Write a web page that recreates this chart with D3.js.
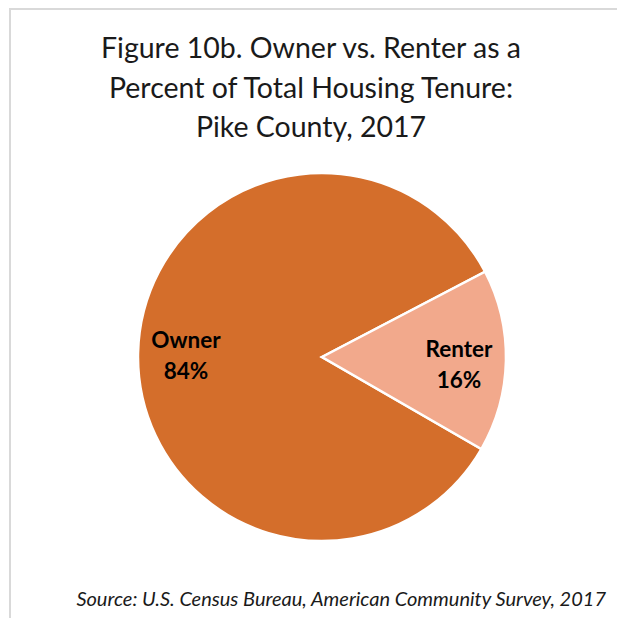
<!DOCTYPE html>
<html>
<head>
<meta charset="utf-8">
<script src="https://cdn.jsdelivr.net/npm/d3@7"></script>
<style>
  body { margin: 0; background: #fff; }
  svg text { font-family: Lato, "Open Sans", sans-serif; }
</style>
</head>
<body>
<div id="chart"></div>
<script>
// data
var categories = ["Owner", "Renter"];
var percents = [84, 16];
var colors = ["#D46E2B", "#F2A98C"];
var titleLines = ["Figure 10b. Owner vs. Renter as a", "Percent of Total Housing Tenure:", "Pike County, 2017"];
var sourceText = "Source: U.S. Census Bureau, American Community Survey, 2017";

var svgWidth = 617;
var svgHeight = 618;

var svg = d3.select("#chart")
  .append("svg")
  .attr("width", svgWidth)
  .attr("height", svgHeight);

// frame (top and left edges visible)
svg.append("path")
  .attr("d", "M10,618 L10,9 L617,9")
  .attr("fill", "none")
  .attr("stroke", "#d9d9d9")
  .attr("stroke-width", 2);

// title
svg.append("g").selectAll("text")
  .data(titleLines)
  .enter()
  .append("text")
  .attr("x", 311)
  .attr("y", (d, i) => 58 + i * 39.5)
  .attr("text-anchor", "middle")
  .attr("font-size", 28.5)
  .attr("fill", "#1a1a1a")
  .text(d => d);

// pie
var data = categories.map((c, i) => ({ name: c, value: percents[i], color: colors[i] }));
var radius = 184;
var start = 120 * Math.PI / 180;

var pie = d3.pie()
  .sort(null)
  .value(d => d.value)
  .startAngle(start)
  .endAngle(start + 2 * Math.PI);

var arc = d3.arc().innerRadius(0).outerRadius(radius);

var pieGroup = svg.append("g")
  .attr("transform", "translate(322, 357)");

var arcs = pie(data);

pieGroup.selectAll("path")
  .data(arcs)
  .enter()
  .append("path")
  .attr("d", arc)
  .attr("fill", d => d.data.color)
  .attr("stroke", "#fff")
  .attr("stroke-width", 2.5);

// labels
var labelPos = { Owner: [-136, -9], Renter: [137, 0] };

var labels = pieGroup.selectAll(".lbl")
  .data(arcs)
  .enter()
  .append("text")
  .attr("class", "lbl")
  .attr("text-anchor", "middle")
  .attr("font-size", 22.5)
  .attr("font-weight", "bold")
  .attr("fill", "#000")
  .attr("transform", d => `translate(${labelPos[d.data.name][0]}, ${labelPos[d.data.name][1]})`);

labels.append("tspan")
  .attr("x", 0)
  .attr("y", 0)
  .text(d => d.data.name);

labels.append("tspan")
  .attr("x", 0)
  .attr("y", 31)
  .text(d => d.data.value + "%");

// source
svg.append("text")
  .attr("x", 606)
  .attr("y", 606)
  .attr("text-anchor", "end")
  .attr("font-size", 20)
  .attr("font-style", "italic")
  .attr("fill", "#1a1a1a")
  .text(sourceText);
</script>
</body>
</html>
